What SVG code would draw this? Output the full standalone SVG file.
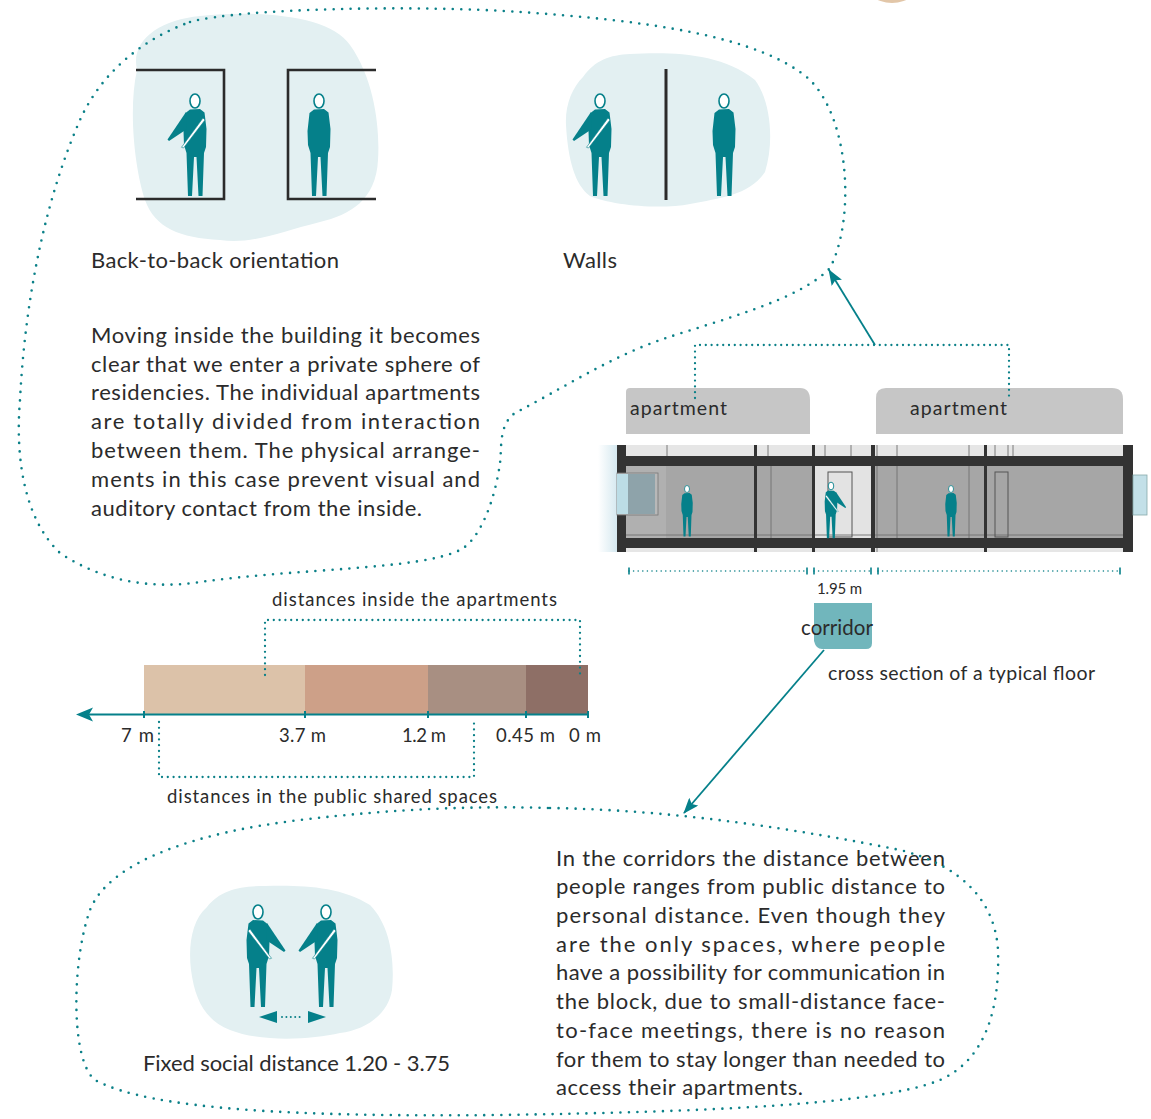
<svg xmlns="http://www.w3.org/2000/svg" xmlns:xlink="http://www.w3.org/1999/xlink" width="1151" height="1119" viewBox="0 0 1151 1119">
  <style>
    .t { font-family: Lato, "Open Sans", "Liberation Sans", sans-serif; fill: #2b2b2b; }
    .body { font-size: 22px; }
    .lbl { font-size: 19.5px; }
    .sm { font-size: 18.5px; }
    .xs { font-size: 15px; }
    .teal { fill: #05808a; }
    .blob { fill: #e3f0f2; }
    .frame { fill: none; stroke: #2b2b2b; stroke-width: 2.6; }
    .dots { fill: none; stroke: #0b8088; stroke-linecap: round; }
    .loop { stroke-width: 2.6; stroke-dasharray: 0 8.5; }
    .brk { stroke-width: 2.3; stroke-dasharray: 0 5.8; }
    .fine { stroke-width: 1.6; stroke-dasharray: 0 4.6; }
    .line { fill: none; stroke: #05808a; stroke-width: 1.8; }
    .dark { fill: #333; }
    .thin { stroke: #6f6f6f; stroke-width: 0.9; fill: none; }
    .tick { stroke: #05808a; stroke-width: 1.6; }
  </style>
  <defs>
    <marker id="head" viewBox="0 0 16 12" refX="15" refY="6" markerWidth="16" markerHeight="12" markerUnits="userSpaceOnUse" orient="auto">
      <path d="M0,0 L16,6 L0,12 L3,6 Z" fill="#05808a"/>
    </marker>
    <linearGradient id="haze" x1="0" y1="0" x2="1" y2="0">
      <stop offset="0" stop-color="#ffffff"/>
      <stop offset="1" stop-color="#d6e9f0"/>
    </linearGradient>
    <!-- standing figure, head centre at origin, feet at y=95 -->
    <g id="person">
      <path class="teal" d="M -5,8.5 L 5,8 L 9.5,11.5 L 11.5,28 L 11,46 L 9,52 L 7.5,95 L 3.5,95 L 1.5,56 L -1,56 L -3,95 L -7,95 L -8.5,52 L -11,44 L -11.5,30 L -9.5,12 Z"/>
      <ellipse cx="0" cy="0" rx="5" ry="7" fill="#fff" stroke="#05808a" stroke-width="1.6"/>
    </g>
    <!-- figure reaching out with one arm -->
    <g id="person-arm">
      <use href="#person"/>
      <path class="teal" d="M -9,11 L -27.5,38.5 L -26,40 L -8,28 Z"/>
      <path d="M 8,17 L 10,19 L -11.5,47 L -13.5,46.3 Z" fill="#fff" stroke="#05808a" stroke-width="0.6"/>
    </g>
  </defs>

  <rect width="1151" height="1119" fill="#fff"/>

  <!-- partial disc at top edge -->
  <ellipse cx="892" cy="-22" rx="30" ry="25" fill="#e2c6a8"/>

  <!-- back-to-back orientation -->
  <g id="back-to-back">
    <path class="blob" d="M 137,70 C 130,40 160,20 200,16 C 260,10 330,15 350,45 C 375,80 380,130 378,160 C 376,200 350,215 320,222 C 280,232 250,245 220,240 C 180,238 155,228 145,200 C 135,170 128,110 137,70 Z"/>
    <path class="frame" d="M 136,70 L 224,70 L 224,199 L 136,199"/>
    <path class="frame" d="M 376,70 L 288,70 L 288,199 L 376,199"/>
    <use href="#person-arm" transform="translate(195,101)"/>
    <use href="#person" transform="translate(319,101)"/>
    <text class="t body" x="91" y="268" textLength="248">Back-to-back orientation</text>
  </g>

  <!-- walls -->
  <g id="walls">
    <path class="blob" d="M 583,77 C 595,60 610,55 630,54 C 670,52 720,52 755,80 C 770,100 775,140 765,172 C 750,195 720,198 690,204 C 660,210 610,205 590,196 C 575,185 568,160 566,125 C 565,105 572,88 583,77 Z"/>
    <line x1="666" y1="69" x2="666" y2="200" stroke="#2b2b2b" stroke-width="3"/>
    <use href="#person-arm" transform="translate(600,101)"/>
    <use href="#person" transform="translate(724,101)"/>
    <text class="t body" x="563" y="268" textLength="54">Walls</text>
  </g>

  <!-- inside text -->
  <g id="inside-text" class="t body">
    <text x="91" y="343" textLength="389">Moving inside the building it becomes</text>
    <text x="91" y="372" textLength="389">clear that we enter a private sphere of</text>
    <text x="91" y="400" textLength="389">residencies. The individual apartments</text>
    <text x="91" y="429" textLength="389">are totally divided from interaction</text>
    <text x="91" y="458" textLength="389">between them. The physical arrange-</text>
    <text x="91" y="487" textLength="389">ments in this case prevent visual and</text>
    <text x="91" y="516" textLength="331">auditory contact from the inside.</text>
  </g>

  <!-- apartment labels -->
  <g id="apartment-left">
    <path d="M 626,434 L 626,392 Q 626,388 630,388 L 800,388 Q 810,388 810,400 L 810,434 Z" fill="#c6c6c6"/>
    <text class="t lbl" x="630" y="415" textLength="97">apartment</text>
  </g>
  <g id="apartment-right">
    <path d="M 876,434 L 876,398 Q 876,388 886,388 L 1112,388 Q 1123,388 1123,399 L 1123,434 Z" fill="#c6c6c6"/>
    <text class="t lbl" x="910" y="415" textLength="97">apartment</text>
  </g>

  <!-- cross section of a typical floor -->
  <g id="cross-section">
    <rect x="598" y="445" width="19" height="107" fill="url(#haze)"/>
    <rect x="617" y="445" width="516" height="11" fill="#e6e6e6"/>
    <rect x="617" y="548" width="516" height="4" fill="#e6e6e6"/>
    <rect x="626" y="466" width="497" height="72" fill="#a6a6a6"/>
    <rect x="626" y="466" width="40" height="72" fill="#b0b0b0"/>
    <rect x="815" y="466" width="56" height="72" fill="#e3e3e3"/>
    <line class="thin" x1="626" y1="535" x2="1123" y2="535" stroke="#8a8a8a"/>
    <!-- light partition lines -->
    <g class="thin">
      <line x1="667" y1="445" x2="667" y2="456"/>
      <line x1="768" y1="445" x2="768" y2="456"/>
      <line x1="771" y1="466" x2="771" y2="538"/>
      <line x1="825" y1="445" x2="825" y2="456"/>
      <line x1="851" y1="445" x2="851" y2="456"/>
      <line x1="877" y1="445" x2="877" y2="552"/>
      <line x1="897" y1="445" x2="897" y2="538"/>
      <line x1="969" y1="445" x2="969" y2="538"/>
      <line x1="995" y1="445" x2="995" y2="456"/>
      <line x1="1008" y1="445" x2="1008" y2="456"/>
      <line x1="1013" y1="445" x2="1013" y2="456"/>
    </g>
    <!-- doors -->
    <rect x="828" y="472" width="24" height="65" fill="none" stroke="#555" stroke-width="1"/>
    <rect x="995" y="472" width="13" height="65" fill="none" stroke="#555" stroke-width="1"/>
    <!-- slabs and walls -->
    <rect class="dark" x="617" y="456" width="516" height="10"/>
    <rect class="dark" x="617" y="538" width="516" height="10"/>
    <rect class="dark" x="617" y="445" width="9" height="107"/>
    <rect class="dark" x="1123" y="445" width="10" height="107"/>
    <rect class="dark" x="754" y="445" width="3" height="107"/>
    <rect class="dark" x="812" y="445" width="3" height="107"/>
    <rect class="dark" x="871" y="445" width="4" height="107"/>
    <rect class="dark" x="984" y="445" width="3" height="107"/>
    <!-- windows -->
    <rect x="617" y="473" width="41" height="42" fill="#b8b8b8" stroke="#777" stroke-width="0.8"/>
    <rect x="617" y="474" width="38" height="40" fill="#8ea3aa"/>
    <rect x="617" y="474" width="11" height="40" fill="#bcdde6"/>
    <rect x="1133" y="475" width="14" height="40" fill="#c3e0e8" stroke="#8aa" stroke-width="0.8"/>
    <!-- occupants -->
    <use href="#person" transform="translate(687,489) scale(0.5)"/>
    <use href="#person-arm" transform="translate(831,486) scale(-0.55,0.55)"/>
    <use href="#person" transform="translate(951,489) scale(0.5)"/>
    <!-- dimension line -->
    <path class="dots fine" d="M 629,571 H 807 M 814,571 H 871 M 878,571 H 1120"/>
    <g class="tick">
      <line x1="629" y1="567.5" x2="629" y2="574.5"/>
      <line x1="807" y1="567.5" x2="807" y2="574.5"/>
      <line x1="814" y1="567.5" x2="814" y2="574.5"/>
      <line x1="871" y1="567.5" x2="871" y2="574.5"/>
      <line x1="878" y1="567.5" x2="878" y2="574.5"/>
      <line x1="1120" y1="567.5" x2="1120" y2="574.5"/>
    </g>
    <text class="t xs" x="817" y="594" textLength="45">1.95 m</text>
    <text class="t lbl" x="828" y="680" textLength="267">cross section of a typical floor</text>
  </g>

  <!-- corridor -->
  <g id="corridor">
    <path d="M 814,603 L 872,603 L 872,643 Q 872,649 866,649 L 822,649 Q 816,649 814,641 Z" fill="#71b6bc"/>
    <text class="t lbl" x="801" y="635" textLength="72" style="font-size:20.5px">corridor</text>
  </g>

  <!-- distance scale -->
  <g id="distance-scale">
    <rect x="144" y="665" width="161" height="49" fill="#dcc2a9"/>
    <rect x="305" y="665" width="123" height="49" fill="#cda088"/>
    <rect x="428" y="665" width="98" height="49" fill="#a88f82"/>
    <rect x="526" y="665" width="62" height="49" fill="#8e6f66"/>
    <line x1="88" y1="714.5" x2="588" y2="714.5" stroke="#05808a" stroke-width="1.8"/>
    <path d="M 76,714.5 L 93,707.5 L 89,714.5 L 93,721.5 Z" fill="#05808a"/>
    <g class="tick" style="stroke-width:2">
      <line x1="144" y1="711" x2="144" y2="718"/>
      <line x1="305" y1="711" x2="305" y2="718"/>
      <line x1="428" y1="711" x2="428" y2="718"/>
      <line x1="526" y1="711" x2="526" y2="718"/>
      <line x1="588" y1="711" x2="588" y2="718"/>
    </g>
    <g class="t sm">
      <text x="121" y="742" textLength="33">7 m</text>
      <text x="279" y="742" textLength="47">3.7 m</text>
      <text x="402" y="742" textLength="44">1.2 m</text>
      <text x="496" y="742" textLength="59">0.45 m</text>
      <text x="569" y="742" textLength="32">0 m</text>
    </g>
    <path class="dots brk" d="M 265,675 V 620 H 580 V 675"/>
    <text class="t sm" x="272" y="606" textLength="285">distances inside the apartments</text>
    <path class="dots brk" d="M 159,722 V 777 H 474 V 722"/>
    <text class="t sm" x="167" y="803" textLength="330">distances in the public shared spaces</text>
  </g>

  <!-- fixed social distance -->
  <g id="social-distance">
    <path class="blob" d="M 207,907 C 220,890 240,886 265,886 C 300,885 340,886 370,905 C 390,925 395,960 392,990 C 388,1015 365,1030 340,1033 C 310,1040 260,1042 230,1030 C 205,1020 195,1000 191,970 C 188,945 192,920 207,907 Z"/>
    <use href="#person-arm" transform="translate(258,912) scale(-1,1)"/>
    <use href="#person-arm" transform="translate(326,912)"/>
    <path d="M 259,1017 L 277,1011 L 277,1023 Z" fill="#05808a"/>
    <path d="M 326,1017 L 308,1011 L 308,1023 Z" fill="#05808a"/>
    <line class="dots" x1="282" y1="1017" x2="304" y2="1017" style="stroke-width:2;stroke-dasharray:0 4.4"/>
    <text class="t body" x="143" y="1071" textLength="307">Fixed social distance 1.20 - 3.75</text>
  </g>

  <!-- corridor text -->
  <g id="corridor-text" class="t body">
    <text x="556" y="866" textLength="389">In the corridors the distance between</text>
    <text x="556" y="894" textLength="389">people ranges from public distance to</text>
    <text x="556" y="923" textLength="389">personal distance. Even though they</text>
    <text x="556" y="952" textLength="389">are the only spaces, where people</text>
    <text x="556" y="980" textLength="389">have a possibility for communication in</text>
    <text x="556" y="1009" textLength="389">the block, due to small-distance face-</text>
    <text x="556" y="1038" textLength="389">to-face meetings, there is no reason</text>
    <text x="556" y="1067" textLength="389">for them to stay longer than needed to</text>
    <text x="556" y="1095" textLength="247">access their apartments.</text>
  </g>

  <!-- connectors -->
  <g id="connectors">
    <path class="dots loop" d="M 190,22 C 240,8 420,5 520,12 C 640,20 760,35 810,80 C 850,120 855,220 830,268 C 800,300 720,320 663,339 C 610,357 560,390 515,413 C 498,425 502,450 500,463 C 495,500 480,540 460,550 C 420,570 300,568 200,582 C 150,590 100,580 60,553 C 25,520 15,460 20,400 C 25,300 45,200 80,120 C 100,75 140,40 190,22 Z"/>
    <path class="dots loop" d="M 550,808 C 680,810 800,830 900,850 C 960,865 995,900 998,950 C 1000,1010 985,1060 940,1080 C 880,1105 700,1112 500,1115 C 300,1117 150,1110 95,1080 C 70,1060 72,960 90,910 C 110,860 200,832 300,820 C 400,808 480,806 550,808 Z"/>
    <path class="dots brk" d="M 695,398 V 345 H 1009 V 398"/>
    <line class="line" x1="875" y1="345" x2="829" y2="270" marker-end="url(#head)"/>
    <line class="line" x1="824" y1="650" x2="684" y2="813" marker-end="url(#head)"/>
  </g>
</svg>
